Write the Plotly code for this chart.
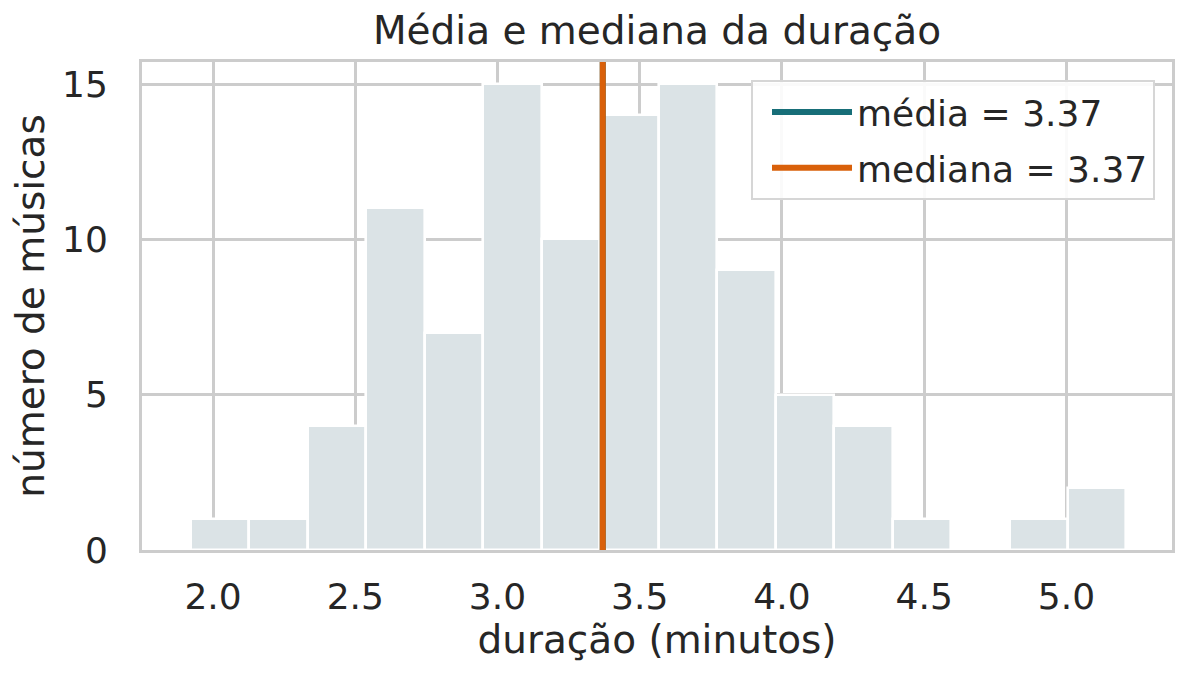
import numpy as np
import plotly.graph_objects as go

# histograma da duração das músicas (minutos)
duracao_min = 1.922
duracao_max = 5.211
n_bins = 16
contagens = [1, 1, 4, 11, 7, 15, 10, 14, 15, 9, 5, 4, 1, 0, 1, 2]

media = 3.37
mediana = 3.37

x_ticks = [2.0, 2.5, 3.0, 3.5, 4.0, 4.5, 5.0]
y_ticks = [0, 5, 10, 15]

edges = np.linspace(duracao_min, duracao_max, n_bins + 1)
centros = (edges[:-1] + edges[1:]) / 2
larguras = np.diff(edges)

texto = "#262626"
cinza = "#cccccc"
fonte = "DejaVu Sans"

fig = go.Figure()
fig.add_trace(go.Bar(
    x=centros, y=contagens, width=larguras,
    marker=dict(color="#dbe3e6", line=dict(color="white", width=2.6)),
    showlegend=False, hoverinfo="x+y",
))

fig.add_shape(type="line", xref="x", yref="y domain",
              x0=media, x1=media, y0=0, y1=1,
              line=dict(color="#176e78", width=6),
              showlegend=True, name=f"média = {media:.2f}", legendgroup="a")
fig.add_shape(type="line", xref="x", yref="y domain",
              x0=mediana, x1=mediana, y0=0, y1=1,
              line=dict(color="#d9600a", width=6),
              showlegend=True, name=f"mediana = {mediana:.2f}", legendgroup="b")

fig.update_layout(
    width=1189, height=681,
    margin=dict(l=142, r=17, t=62, b=131),
    plot_bgcolor="white", paper_bgcolor="white",
    font=dict(family=fonte, color=texto, size=36),
    bargap=0,
    title=dict(text="Média e mediana da duração", x=0.5, xref="paper",
               xanchor="center", y=0.935, yanchor="bottom",
               font=dict(size=39, color=texto)),
    legend=dict(x=0.9835, y=0.963, xanchor="right", yanchor="top",
                bgcolor="rgba(255,255,255,0.9)", bordercolor="#d6d6d6", borderwidth=2,
                font=dict(size=36, color=texto), tracegroupgap=6,
                itemwidth=80, indentation=14),
)

fig.update_xaxes(
    range=[1.7504, 5.371], tickvals=x_ticks, tickformat=".1f",
    showgrid=True, gridcolor=cinza, gridwidth=2.5,
    showline=True, linecolor=cinza, linewidth=3, mirror=True,
    ticks="outside", ticklen=13, tickcolor="rgba(0,0,0,0)",
    zeroline=False,
    title=dict(text="duração (minutos)", font=dict(size=39), standoff=0),
)
fig.update_yaxes(
    range=[0, 15.71], tickvals=y_ticks,
    showgrid=True, gridcolor=cinza, gridwidth=2.5,
    showline=True, linecolor=cinza, linewidth=3, mirror=True,
    ticks="outside", ticklen=24, tickcolor="rgba(0,0,0,0)",
    zeroline=False,
    title=dict(text="número de músicas", font=dict(size=39), standoff=6),
)

fig.write_html("out.html", config={"displayModeBar": False},
               post_script="document.body.style.margin='0';")
